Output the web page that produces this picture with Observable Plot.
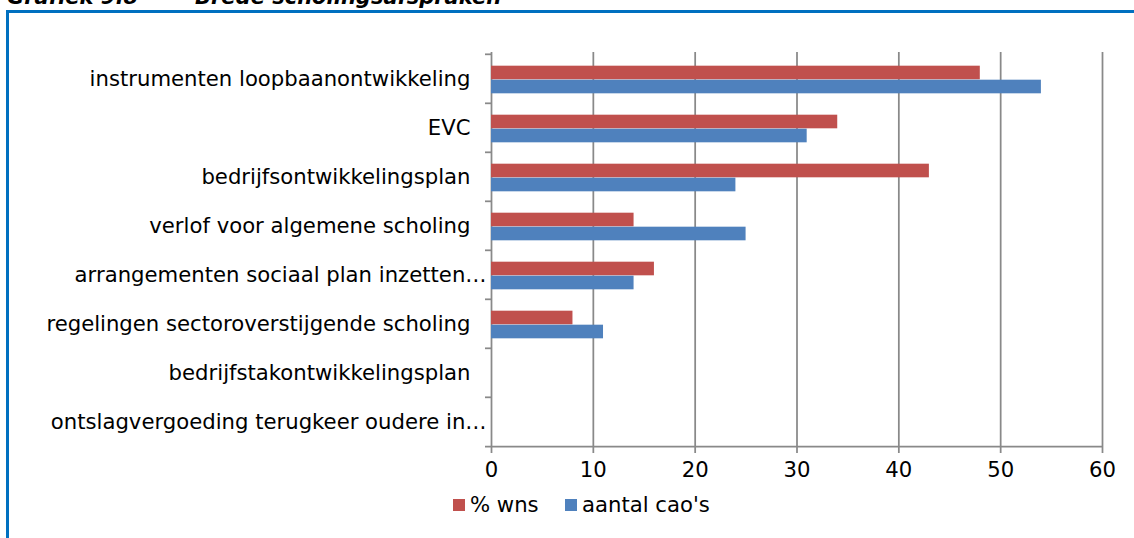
<!DOCTYPE html>
<html>
<head>
<meta charset="utf-8">
<script src="https://cdn.jsdelivr.net/npm/d3@7"></script>
<script src="https://cdn.jsdelivr.net/npm/@observablehq/plot@0.6"></script>
<style>
  html, body { margin: 0; padding: 0; background: #fff; }
  #wrap { position: relative; width: 1134px; height: 538px; overflow: hidden; background: #fff; font-family: "DejaVu Sans", Verdana, sans-serif; }
  #title { position: absolute; left: 7px; top: -13px; font-size: 21px; line-height: 21px; font-weight: bold; font-style: italic; color: #000; white-space: nowrap; }
  #title span.b { position: absolute; left: 188px; top: 0; }
  #frame { position: absolute; left: 6px; top: 10px; width: 1140px; height: 540px; border-top: 3px solid #0070C0; border-left: 3px solid #0070C0; box-sizing: border-box; }
  #chart { position: absolute; left: 0; top: 0; }
  #legend { position: absolute; top: 493px; left: 453px; font-size: 21.2px; line-height: 24px; color: #000; white-space: nowrap; }
  #legend .item { position: absolute; top: 0; }
  #legend .sw { position: absolute; top: 6px; left: 0; width: 12px; height: 12px; }
  #legend .lab { position: absolute; left: 17px; top: 0; }
</style>
</head>
<body>
<div id="wrap">
  <div id="title"><span>Grafiek 9.8</span><span class="b">Brede scholingsafspraken</span></div>
  <div id="frame"></div>
  <div id="chart"></div>
  <div id="legend"></div>
</div>
<script>
// ---- data ----
const categories = [
  "instrumenten loopbaanontwikkeling",
  "EVC",
  "bedrijfsontwikkelingsplan",
  "verlof voor algemene scholing",
  "arrangementen sociaal plan inzetten…",
  "regelingen sectoroverstijgende scholing",
  "bedrijfstakontwikkelingsplan",
  "ontslagvergoeding terugkeer oudere in…"
];
const seriesNames = ["% wns", "aantal cao's"];
const pctWns     = [48, 34, 43, 14, 16, 8, 0, 0];
const aantalCaos = [54, 31, 24, 25, 14, 11, 0, 0];
const xTicks = [0, 10, 20, 30, 40, 50, 60];
const seriesColors = ["#C0504D", "#4F81BD"];

// ---- build tables ----
const rowsWns  = categories.map((c, i) => ({category: c, series: seriesNames[0], value: pctWns[i]}));
const rowsCaos = categories.map((c, i) => ({category: c, series: seriesNames[1], value: aantalCaos[i]}));
const fullLabels = categories.filter(c => !c.endsWith("…"));
const cutLabels  = categories.filter(c => c.endsWith("…"));

const marginTop = 52, marginBottom = 43, height = 490;
const bw = (height - marginTop - marginBottom) / categories.length;
const barH = 14;
const inset = (bw - barH) / 2;
const gray = "#898989";

const chart = Plot.plot({
  width: 1134,
  height,
  marginTop,
  marginBottom,
  marginLeft: 491,
  marginRight: 32,
  style: {fontFamily: "'DejaVu Sans', Verdana, sans-serif", fontSize: "21.2px", color: "#000", background: "transparent"},
  x: {domain: [0, 60], axis: null},
  y: {type: "band", domain: categories, padding: 0, axis: null},
  marks: [
    // vertical gridlines (incl. y axis line at 0)
    Plot.ruleX(xTicks, {x: d => d, stroke: gray, strokeWidth: 1.75}),
    // bars
    Plot.barX(rowsWns,  {y: "category", x: "value", fill: seriesColors[0], insetTop: inset, insetBottom: inset, dy: -6}),
    Plot.barX(rowsCaos, {y: "category", x: "value", fill: seriesColors[1], insetTop: inset, insetBottom: inset, dy: 8}),
    // category boundary ticks on the y axis
    Plot.ruleY(categories, {y: d => d, x1: 0, x2: 0, insetLeft: -6, dy: -bw / 2, stroke: gray, strokeWidth: 1.75}),
    // x axis baseline (bottom boundary)
    Plot.ruleY([categories[categories.length - 1]], {y: d => d, x1: 0, x2: 60, insetLeft: -6, dy: bw / 2, stroke: gray, strokeWidth: 1.75}),
    // x axis ticks and labels
    Plot.axisX(xTicks, {anchor: "bottom", label: null, tickSize: 6, tickPadding: 8, stroke: gray, strokeWidth: 1.75, fontSize: 21.2, fill: "#000", strokeOpacity: 1}),
    // y axis labels
    Plot.axisY(fullLabels, {anchor: "left", label: null, tickSize: 0, tickPadding: 21, fontSize: 21.2, fill: "#000", textOverflow: null}),
    Plot.axisY(cutLabels, {anchor: "left", label: null, tickSize: 0, tickPadding: 5, fontSize: 21.2, fill: "#000", textOverflow: null})
  ]
});
document.getElementById("chart").appendChild(chart);

// ---- legend ----
const legend = document.getElementById("legend");
const legendOffsets = [0, 112];
seriesNames.forEach((name, i) => {
  const item = document.createElement("div");
  item.className = "item";
  item.style.left = legendOffsets[i] + "px";
  const sw = document.createElement("span");
  sw.className = "sw";
  sw.style.background = seriesColors[i];
  const lab = document.createElement("span");
  lab.className = "lab";
  lab.textContent = name;
  item.appendChild(sw);
  item.appendChild(lab);
  legend.appendChild(item);
});
</script>
</body>
</html>
